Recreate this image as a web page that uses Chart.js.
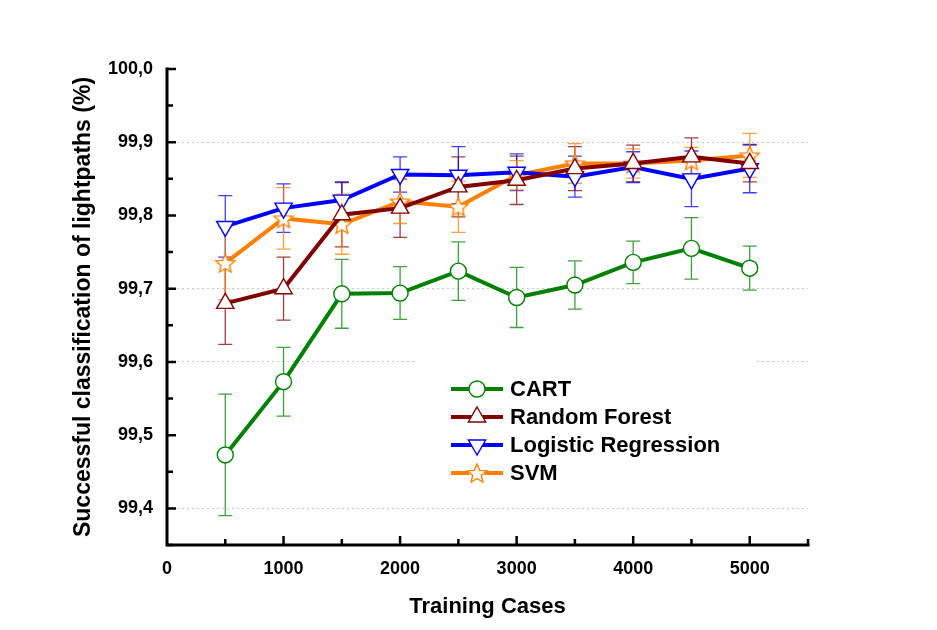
<!DOCTYPE html>
<html>
<head>
<meta charset="utf-8">
<script src="https://cdn.jsdelivr.net/npm/chart.js@4.4.1/dist/chart.umd.min.js"></script>
<style>
    html, body { margin: 0; padding: 0; background: #ffffff; }
    #grafico { display: block; }
</style>
</head>
<body>
<canvas id="grafico" width="937" height="630"></canvas>
<script>
// casos de treino (eixo x)
const casos = [500, 1000, 1500, 2000, 2500, 3000, 3500, 4000, 4500, 5000];

// acerto médio (%) e desvio de cada classificador
const cart = [99.473, 99.573, 99.693, 99.694, 99.724, 99.688, 99.705, 99.736, 99.755, 99.728];
const cartErro = [0.083, 0.047, 0.047, 0.036, 0.040, 0.041, 0.033, 0.029, 0.042, 0.030];

const randomForest = [99.680, 99.700, 99.801, 99.810, 99.839, 99.848, 99.864, 99.871, 99.880, 99.871];
const randomForestErro = [0.056, 0.043, 0.044, 0.040, 0.041, 0.033, 0.030, 0.025, 0.026, 0.025];

const logistica = [99.785, 99.810, 99.821, 99.856, 99.855, 99.859, 99.853, 99.866, 99.850, 99.864];
const logisticaErro = [0.042, 0.033, 0.025, 0.024, 0.039, 0.025, 0.028, 0.021, 0.038, 0.033];

const svm = [99.735, 99.796, 99.788, 99.819, 99.812, 99.855, 99.871, 99.871, 99.875, 99.882];
const svmErro = [0.050, 0.042, 0.041, 0.030, 0.035, 0.020, 0.027, 0.020, 0.018, 0.030];

const ticksX = [0, 1000, 2000, 3000, 4000, 5000];
const ticksY = [99.4, 99.5, 99.6, 99.7, 99.8, 99.9, 100.0];
const linhasGrade = [99.4, 99.6, 99.7, 99.9];

const fonte = 'Liberation Sans, Arial, sans-serif';

// estrela vazada de 5 pontas para o SVM
function criarEstrela(cor, raio) {
    let tam = Math.ceil(raio * 2 + 4);
    let c = document.createElement('canvas');
    c.width = tam;
    c.height = tam;
    let ctx = c.getContext('2d');
    let cx = tam / 2, cy = tam / 2 + 1;
    ctx.beginPath();
    for (let i = 0; i < 10; i++) {
        let r = i % 2 == 0 ? raio : raio * 0.45;
        let ang = -Math.PI / 2 + i * Math.PI / 5;
        ctx.lineTo(cx + r * Math.cos(ang), cy + r * Math.sin(ang));
    }
    ctx.closePath();
    ctx.fillStyle = '#ffffff';
    ctx.fill();
    ctx.lineWidth = 1.4;
    ctx.strokeStyle = cor;
    ctx.stroke();
    return c;
}

const estrela = criarEstrela('#ff8000', 10);

function serie(nome, dados, erros, cor, estilo, raio, rotacao) {
    return {
        label: nome,
        data: casos.map((x, i) => ({ x: x, y: dados[i] })),
        erros: erros,
        borderColor: cor,
        borderWidth: 4,
        pointStyle: estilo,
        pointRadius: raio,
        pointHoverRadius: raio,
        pointRotation: rotacao,
        pointBorderColor: cor,
        pointBorderWidth: 1.4,
        pointBackgroundColor: '#ffffff',
        tension: 0
    };
}

// barras de erro desenhadas pelas escalas do gráfico
const barrasErro = {
    id: 'barrasErro',
    beforeDatasetsDraw(chart) {
        let ctx = chart.ctx;
        let sx = chart.scales.x, sy = chart.scales.y;
        ctx.save();
        chart.data.datasets.forEach(ds => {
            ctx.strokeStyle = ds.borderColor;
            ctx.globalAlpha = 0.75;
            ctx.lineWidth = 1.3;
            ds.data.forEach((p, i) => {
                let x = sx.getPixelForValue(p.x);
                let y1 = sy.getPixelForValue(p.y + ds.erros[i]);
                let y2 = sy.getPixelForValue(p.y - ds.erros[i]);
                ctx.beginPath();
                ctx.moveTo(x, y1); ctx.lineTo(x, y2);
                ctx.moveTo(x - 7, y1); ctx.lineTo(x + 7, y1);
                ctx.moveTo(x - 7, y2); ctx.lineTo(x + 7, y2);
                ctx.stroke();
            });
        });
        ctx.restore();
    }
};

// eixos com marcas para dentro e legenda dentro da área
const eixosLegenda = {
    id: 'eixosLegenda',
    afterDraw(chart) {
        let ctx = chart.ctx;
        let area = chart.chartArea;
        let sx = chart.scales.x, sy = chart.scales.y;
        ctx.save();
        ctx.strokeStyle = '#000';
        ctx.lineWidth = 3;
        ctx.lineCap = 'square';
        ctx.beginPath();
        ctx.moveTo(area.left, area.top);
        ctx.lineTo(area.left, area.bottom);
        ctx.lineTo(area.right, area.bottom);
        ctx.stroke();

        ctx.lineWidth = 2.5;
        ctx.lineCap = 'butt';
        ctx.beginPath();
        for (let i = 0; i < ticksY.length; i++) {
            let y = sy.getPixelForValue(ticksY[i]);
            ctx.moveTo(area.left, y); ctx.lineTo(area.left + 9, y);
            let ym = sy.getPixelForValue(ticksY[i] - 0.05);
            ctx.moveTo(area.left, ym); ctx.lineTo(area.left + 6, ym);
        }
        for (let i = 0; i < ticksX.length; i++) {
            let x = sx.getPixelForValue(ticksX[i]);
            if (i > 0) { ctx.moveTo(x, area.bottom); ctx.lineTo(x, area.bottom - 9); }
            let xm = sx.getPixelForValue(ticksX[i] + 500);
            ctx.moveTo(xm, area.bottom); ctx.lineTo(xm, area.bottom - 6);
        }
        ctx.stroke();

        // legenda
        let lx = 417, ly = 354;
        ctx.fillStyle = '#ffffff';
        ctx.fillRect(lx, ly, 340, 140);
        chart.data.datasets.forEach((ds, i) => {
            let y = 389 + i * 28;
            ctx.strokeStyle = ds.borderColor;
            ctx.lineWidth = 4;
            ctx.beginPath();
            ctx.moveTo(451, y); ctx.lineTo(503, y);
            ctx.stroke();
            if (ds.pointStyle instanceof HTMLCanvasElement) {
                ctx.fillStyle = '#ffffff';
                ctx.beginPath(); ctx.arc(477, y, 8, 0, Math.PI * 2); ctx.fill();
                ctx.drawImage(ds.pointStyle, 477 - ds.pointStyle.width / 2, y - ds.pointStyle.height / 2);
            } else {
                ctx.fillStyle = '#ffffff';
                ctx.strokeStyle = ds.borderColor;
                ctx.lineWidth = 1.4;
                Chart.helpers.drawPoint(ctx, {
                    pointStyle: ds.pointStyle,
                    radius: ds.pointRadius,
                    rotation: ds.pointRotation,
                    borderWidth: 1.4
                }, 477, y);
            }
            ctx.fillStyle = '#000';
            ctx.font = 'bold 22px ' + fonte;
            ctx.textBaseline = 'middle';
            ctx.textAlign = 'left';
            ctx.fillText(ds.label, 510, y + 1);
        });
        ctx.restore();
    }
};

let config = {
    type: 'line',
    data: {
        datasets: [
            serie('CART', cart, cartErro, '#008000', 'circle', 8, 0),
            serie('Random Forest', randomForest, randomForestErro, '#800000', 'triangle', 10, 0),
            serie('Logistic Regression', logistica, logisticaErro, '#0000ff', 'triangle', 10, 180),
            serie('SVM', svm, svmErro, '#ff8000', estrela, 10, 0)
        ]
    },
    options: {
        responsive: false,
        animation: false,
        devicePixelRatio: 1,
        layout: {
            padding: { top: 69, right: 129, left: 0, bottom: 0 }
        },
        plugins: {
            legend: { display: false },
            tooltip: { enabled: false }
        },
        scales: {
            x: {
                type: 'linear',
                min: 0,
                max: 5500,
                afterBuildTicks: s => { s.ticks = ticksX.map(v => ({ value: v })); },
                afterFit: s => { s.height = 85; },
                grid: { display: false },
                border: { display: false },
                ticks: {
                    color: '#000',
                    padding: 5,
                    maxRotation: 0,
                    font: { family: fonte, size: 18, weight: 'bold' },
                    callback: v => String(v)
                },
                title: {
                    display: true,
                    text: 'Training Cases',
                    color: '#000',
                    padding: { top: 6, bottom: 10 },
                    font: { family: fonte, size: 22, weight: 'bold' }
                }
            },
            y: {
                min: 99.35,
                max: 100.0,
                afterBuildTicks: s => { s.ticks = ticksY.map(v => ({ value: v })); },
                afterFit: s => { s.width = 167; },
                grid: {
                    drawTicks: false,
                    lineWidth: 1,
                    color: c => linhasGrade.includes(+c.tick.value.toFixed(2)) ? '#c8c8c8' : 'rgba(0,0,0,0)'
                },
                border: { display: false, dash: [2, 3] },
                ticks: {
                    color: '#000',
                    padding: 14,
                    font: { family: fonte, size: 18, weight: 'bold' },
                    callback: v => v.toFixed(1).replace('.', ',')
                },
                title: {
                    display: true,
                    text: 'Successful classification of lightpaths (%)',
                    color: '#000',
                    padding: { top: 70, bottom: 0 },
                    font: { family: fonte, size: 23, weight: 'bold' }
                }
            }
        }
    },
    plugins: [barrasErro, eixosLegenda]
};

let meuGrafico = new Chart(document.getElementById('grafico'), config);
</script>
</body>
</html>
